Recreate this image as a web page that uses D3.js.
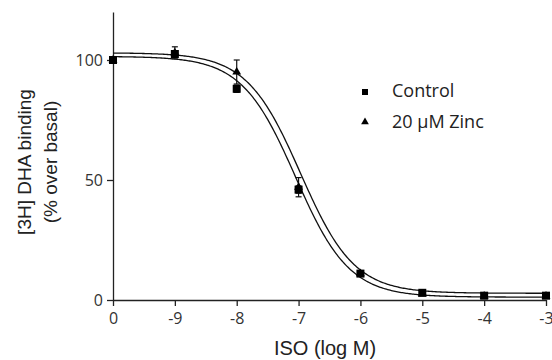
<!DOCTYPE html>
<html><head><meta charset="utf-8">
<script src="https://cdn.jsdelivr.net/npm/d3@7"></script>
<style>body{margin:0;background:#fff;} svg{display:block;}</style>
</head><body>
<svg id="c" width="552" height="360"></svg>
<script>
// Data
const logConc = [-10, -9, -8, -7, -6, -5, -4, -3]; // -10 represents basal ("0")
const tickLabels = ["0", "-9", "-8", "-7", "-6", "-5", "-4", "-3"];
const controlVals = [100, 102.5, 88, 46, 11, 3, 1.8, 1.8];
const controlErr = [0, 1, 1.5, 1.5, 1, 0.5, 0.5, 0.5];
const zincVals = [100, 103, 95, 47, 11, 2.5, 1.6, 1.6];
const zincErr = [0, 2.5, 5, 4, 1, 0.5, 0.5, 0.5];
// fitted one-site competition parameters [top, bottom, logIC50]
const controlFit = [101.5, 1.2, -7.05];
const zincFit = [103, 2.8, -6.97];
const yTicks = [0, 50, 100];
const seriesNames = ["Control", "20 \u03bcM Zinc"];

const svg = d3.select("#c");
const x = d3.scaleLinear().domain([-10, -3]).range([113, 546]);
const y = d3.scaleLinear().domain([0, 120]).range([300, 12]);

// axes
const xAxis = d3.axisBottom(x).tickValues(logConc)
  .tickFormat((d, i) => tickLabels[i]).tickSize(6).tickSizeOuter(0);
const gx = svg.append("g").attr("transform", "translate(0,300)").call(xAxis);
const yAxis = d3.axisLeft(y).tickValues(yTicks).tickSize(6).tickSizeOuter(0);
const gy = svg.append("g").attr("transform", "translate(113,0)").call(yAxis);
[gx, gy].forEach(g => {
  g.selectAll("path, line").attr("stroke", "#222").attr("stroke-width", 1.3);
  g.selectAll("text").attr("font-family", "'Open Sans', sans-serif")
    .attr("font-size", 16).attr("fill", "#333");
});
gx.selectAll("text").attr("dy", "0.95em");
gy.selectAll("text").attr("dx", "-1px").attr("dy", "0.36em");

// fit curves
function fit(p) {
  return xv => p[1] + (p[0] - p[1]) / (1 + Math.pow(10, xv - p[2]));
}
const xs = d3.range(-10, -3.0001, 0.02).concat([-3]);
const line = d3.line().x(d => x(d[0])).y(d => y(d[1]));
[controlFit, zincFit].forEach(p => {
  const f = fit(p);
  svg.append("path").datum(xs.map(v => [v, f(v)]))
    .attr("d", line).attr("fill", "none").attr("stroke", "#111").attr("stroke-width", 1.3);
});

// error bars
function errBars(vals, errs) {
  vals.forEach((v, i) => {
    if (!errs[i]) return;
    const cx = x(logConc[i]);
    const g = svg.append("g").attr("stroke", "#111").attr("stroke-width", 1.2);
    g.append("line").attr("x1", cx).attr("x2", cx).attr("y1", y(v - errs[i])).attr("y2", y(v + errs[i]));
    [v - errs[i], v + errs[i]].forEach(e =>
      g.append("line").attr("x1", cx - 3).attr("x2", cx + 3).attr("y1", y(e)).attr("y2", y(e)));
  });
}
errBars(zincVals, zincErr);
errBars(controlVals, controlErr);

const tri = d3.symbol().type(d3.symbolTriangle).size(34);
// markers
svg.append("g").selectAll("path").data(zincVals).join("path")
  .attr("d", tri).attr("transform", (d, i) => `translate(${x(logConc[i])},${y(d)})`)
  .attr("fill", "#000");
svg.append("g").selectAll("rect").data(controlVals).join("rect")
  .attr("x", (d, i) => x(logConc[i]) - 4).attr("y", d => y(d) - 4)
  .attr("width", 8).attr("height", 8).attr("fill", "#000");

// legend
svg.append("rect").attr("x", 362).attr("y", 89).attr("width", 6).attr("height", 6).attr("fill", "#000");
svg.append("path").attr("d", d3.symbol().type(d3.symbolTriangle).size(26))
  .attr("transform", "translate(365,122)").attr("fill", "#000");
svg.append("text").attr("x", 392).attr("y", 97).text(seriesNames[0]);
svg.append("text").attr("x", 392).attr("y", 128).text(seriesNames[1]);
svg.selectAll(":scope > text").attr("font-family", "'Open Sans', sans-serif")
  .attr("font-size", 18).attr("fill", "#222");

// axis titles
svg.append("text").attr("x", 325).attr("y", 355).attr("text-anchor", "middle")
  .attr("font-family", "'Liberation Sans', Arial, sans-serif").attr("font-size", 20).attr("fill", "#222")
  .text("ISO (log M)");
const yt = svg.append("text").attr("transform", "translate(0,162) rotate(-90)")
  .attr("text-anchor", "middle")
  .attr("font-family", "'Liberation Sans', Arial, sans-serif").attr("font-size", 19).attr("fill", "#222");
yt.append("tspan").attr("x", 0).attr("y", 31).text("[3H] DHA binding");
yt.append("tspan").attr("x", 0).attr("y", 57).text("(% over basal)");
</script>
</body></html>
